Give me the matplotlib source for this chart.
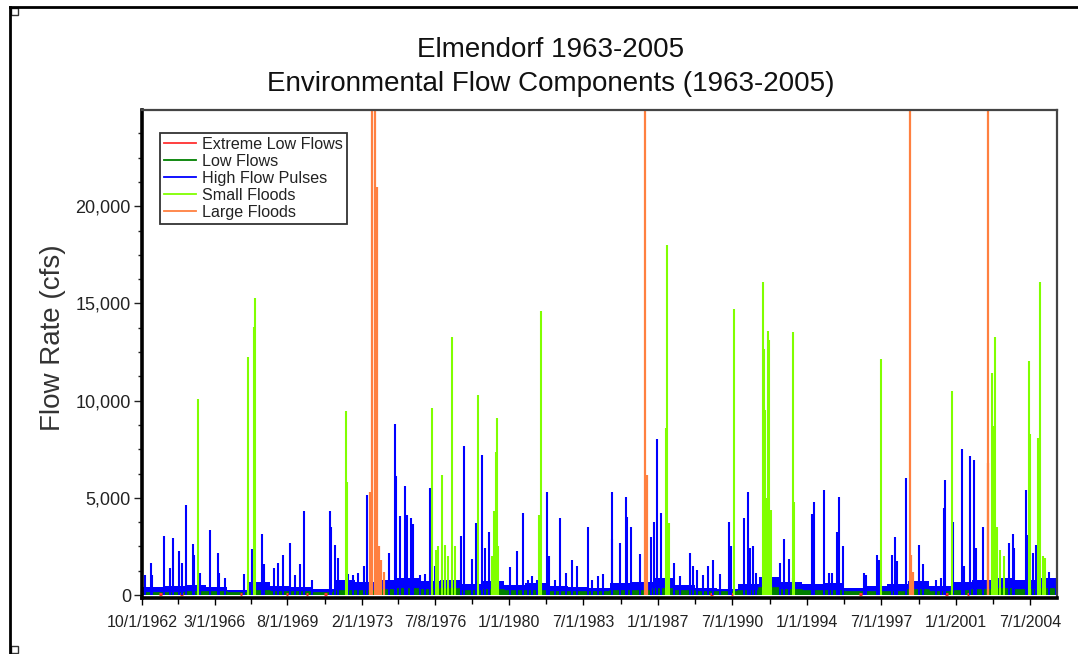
import datetime as dt
import matplotlib
matplotlib.use('Agg')
import matplotlib.pyplot as plt
from matplotlib.lines import Line2D
from matplotlib.patches import Rectangle
from matplotlib.ticker import FuncFormatter, MultipleLocator

plt.rcParams['font.family'] = ['Liberation Sans', 'DejaVu Sans']

title_lines = ['Elmendorf 1963-2005', 'Environmental Flow Components (1963-2005)']
series_names = ['Extreme Low Flows', 'Low Flows', 'High Flow Pulses', 'Small Floods', 'Large Floods']
series_colors = ['#ff3030', '#008000', '#0000ff', '#80ff00', '#ff8040']
tick_dates = ['10/1/1962', '3/1/1966', '8/1/1969', '2/1/1973', '7/8/1976', '1/1/1980',
              '7/1/1983', '1/1/1987', '7/1/1990', '1/1/1994', '7/1/1997', '1/1/2001', '7/1/2004']

# water-year starts (decimal year) with typical base levels (cfs)
wy_start = [1962.75 + i for i in range(43)]
low_flow = [130, 120, 150, 140, 110, 200, 170, 150, 120, 200, 200, 250, 300, 250, 300,
            200, 250, 200, 200, 180, 180, 170, 220, 220, 300, 200, 150, 140, 200, 350,
            250, 220, 230, 150, 170, 180, 250, 180, 220, 280, 300, 280, 300]
pulse_band = [400, 450, 500, 400, 280, 650, 450, 400, 320, 800, 650, 800, 900, 700, 800,
              550, 700, 500, 600, 450, 400, 380, 600, 650, 900, 500, 350, 320, 550, 950,
              650, 550, 600, 350, 450, 550, 700, 450, 650, 800, 900, 800, 900]

# extreme low flow periods (start year)
extreme_low_years = [1963.55, 1964.55, 1967.35, 1969.5, 1970.45, 1971.3,
                     1989.45, 1990.42, 1996.45, 2000.5, 2001.5]
extreme_low_cfs = [40, 40, 40, 40, 40, 40, 40, 40, 40, 40, 40]

# high flow pulses: peak date (decimal year) and peak flow (cfs)
pulse_years = [1962.90, 1963.19, 1963.24, 1963.80, 1964.08, 1964.21, 1964.50, 1964.63, 1964.83,
               1965.13, 1965.21, 1965.49, 1965.96, 1966.30, 1966.37, 1966.66, 1967.52, 1967.91,
               1968.38, 1968.49, 1968.93, 1969.14, 1969.37, 1969.70, 1969.95, 1970.18, 1970.37,
               1970.73, 1971.56, 1971.62, 1971.83, 1971.97, 1972.45, 1972.68, 1972.92, 1973.20,
               1973.31, 1974.37, 1974.64, 1974.69, 1974.88, 1975.11, 1975.19, 1975.38, 1975.47,
               1975.82, 1976.05, 1976.29, 1976.52, 1977.73, 1977.88, 1978.27, 1978.43, 1978.71,
               1978.87, 1979.07, 1979.18, 1980.04, 1980.38, 1980.64, 1980.90, 1981.06, 1981.32,
               1981.76, 1981.87, 1982.15, 1982.39, 1982.67, 1982.98, 1983.17, 1983.69, 1983.88,
               1984.19, 1984.39, 1984.82, 1984.85, 1985.21, 1985.49, 1985.52, 1985.75, 1986.14,
               1986.69, 1986.80, 1986.96, 1987.16, 1987.74, 1988.03, 1988.49, 1988.65, 1988.81,
               1989.12, 1989.37, 1989.59, 1989.90, 1990.34, 1990.45, 1991.04, 1991.23, 1991.31,
               1991.46, 1991.62, 1992.72, 1992.90, 1993.14, 1993.34, 1994.25, 1994.31, 1994.78,
               1995.03, 1995.19, 1995.41, 1995.49, 1995.69, 1996.66, 1996.76, 1997.28, 1997.38,
               1998.01, 1998.12, 1998.24, 1998.67, 1999.26, 1999.44, 2000.07, 2000.31, 2000.42,
               2000.47, 2000.85, 2001.30, 2001.36, 2001.64, 2001.87, 2001.95, 2002.26, 2003.51,
               2003.67, 2003.75, 2004.27, 2004.33, 2004.61, 2004.77, 2005.39, 2005.68]
pulse_peaks = [1030, 1640, 1030, 3050, 1390, 2960, 2280, 1660, 4630,
               2650, 2060, 1150, 3340, 2190, 1160, 870, 1100, 2350,
               3120, 1610, 1380, 1670, 2060, 2660, 1030, 1610, 4320,
               760, 4320, 3510, 2570, 1900, 1100, 1030, 1160, 1500,
               5140, 2140, 8790, 6120, 4080, 5620, 4130, 3970, 3640,
               1030, 1100, 5530, 1500, 3030, 7660, 1880, 3720, 7200,
               2400, 3250, 1300, 1470, 2280, 4230, 770, 1000, 800,
               5310, 2000, 770, 3940, 1160, 1800, 1500, 3510, 770,
               1000, 1100, 5310, 2900, 2660, 5020, 4000, 3510, 2090,
               3000, 3770, 8050, 4200, 1650, 1000, 2170, 1500, 1300,
               1030, 1500, 1800, 1100, 3770, 2500, 3940, 5310, 2400,
               2520, 1160, 1640, 2880, 1850, 870, 4160, 4800, 5400,
               1160, 1160, 3250, 5020, 2520, 1160, 1030, 2060, 1800,
               2060, 3000, 1740, 6000, 2600, 1600, 760, 870, 4460,
               5910, 3770, 7490, 1500, 7140, 6970, 2400, 3510, 2660,
               3120, 2400, 5400, 3100, 2180, 2570, 1200, 900]

# small floods
small_years = [1965.40, 1967.75, 1968.02, 1968.07, 1972.34, 1972.38, 1976.36, 1976.55, 1976.66,
               1976.83, 1976.99, 1977.15, 1977.34, 1977.46, 1978.55, 1979.20, 1979.29, 1979.37,
               1979.42, 1979.50, 1981.42, 1981.48, 1987.39, 1987.44, 1987.50, 1990.56, 1991.93,
               1991.98, 1992.03, 1992.08, 1992.12, 1992.18, 1992.22, 1992.30, 1993.33, 1993.38,
               1997.49, 2000.82, 2002.70, 2002.77, 2002.84, 2002.95, 2003.05, 2003.28, 2004.42,
               2004.47, 2004.88, 2004.93, 2005.07, 2005.20]
small_peaks = [10070, 12230, 13800, 15300, 9460, 5800, 9600, 2300, 2500,
               6200, 2600, 2000, 13300, 2500, 10300, 2000, 4300, 7370,
               9100, 2500, 4100, 14600, 8600, 18000, 3700, 14700, 16100,
               12650, 9500, 2000, 5000, 13600, 13100, 4400, 13530, 4800,
               12130, 10500, 11430, 8700, 13300, 3500, 2300, 2000, 12030,
               8300, 8100, 16100, 2000, 1900]

# large floods (peaks run off the top of the chart)
large_years = [1973.45, 1973.58, 1973.69, 1973.78, 1973.90, 1974.00, 1974.10,
               1986.41, 1986.46, 1998.82, 1998.91, 1999.00, 2002.50, 2002.53]
large_peaks = [5300, 30000, 28000, 21000, 2500, 1800, 1200,
               32000, 6200, 40000, 2050, 1200, 35000, 6800]


def dec_year(s):
    m, d, y = map(int, s.split('/'))
    start = dt.date(y, 1, 1)
    n = (dt.date(y + 1, 1, 1) - start).days
    return y + (dt.date(y, m, d) - start).days / n


fig = plt.figure(figsize=(10.78, 6.54), dpi=100)
ax = fig.add_axes([142 / 1078, 1 - 598 / 654, 915 / 1078, 488 / 654])

# base flow bands
xs = wy_start + [wy_start[-1] + 1]
ax.fill_between(xs, 0, low_flow + [low_flow[-1]], step='post', color=series_colors[1], lw=0)
ax.fill_between(xs, low_flow + [low_flow[-1]], pulse_band + [pulse_band[-1]], step='post',
                color=series_colors[2], lw=0)
ax.step(xs, low_flow + [low_flow[-1]], where='post', color=series_colors[1], lw=1.2)

ax.hlines(extreme_low_cfs, extreme_low_years, [y + 0.12 for y in extreme_low_years],
          color=series_colors[0], lw=2.2)
ax.vlines(pulse_years, 0, pulse_peaks, color=series_colors[2], lw=1.5)
ax.vlines(small_years, 0, small_peaks, color=series_colors[3], lw=1.5)
ax.vlines(large_years, 0, large_peaks, color=series_colors[4], lw=1.6)

ax.set_xlim(dec_year('10/1/1962'), 2005.75)
ax.set_ylim(-150, 24950)

major = [dec_year(s) for s in tick_dates]
ax.set_xticks(major)
ax.set_xticklabels(tick_dates, fontsize=11.5, color='#222222')
ax.set_xticks([(a + b) / 2 for a, b in zip(major[:-1], major[1:])], minor=True)
ax.yaxis.set_major_locator(MultipleLocator(5000))
ax.yaxis.set_minor_locator(MultipleLocator(1250))
ax.yaxis.set_major_formatter(FuncFormatter(lambda v, p: '{:,.0f}'.format(v)))
ax.tick_params(axis='y', which='major', length=6, width=1, labelsize=13, pad=2, colors='#222222')
ax.tick_params(axis='y', which='minor', length=3, width=1, color='#222222')
ax.tick_params(axis='x', which='major', length=5, width=1, pad=7)
ax.tick_params(axis='x', which='minor', length=4, width=1)

for side in ['left', 'bottom']:
    ax.spines[side].set_linewidth(2.6)
    ax.spines[side].set_color('black')
for side in ['top', 'right']:
    ax.spines[side].set_linewidth(1.6)
    ax.spines[side].set_color('#444444')

handles = [Line2D([], [], color=c, lw=1.3) for c in series_colors]
leg = ax.legend(handles, series_names, loc='upper left', bbox_to_anchor=(0.0197, 0.953),
                borderaxespad=0, fontsize=11.6, frameon=True, fancybox=False,
                borderpad=0.25, labelspacing=0.12, handlelength=2.0, handletextpad=0.35)
leg.get_frame().set_edgecolor('black')
leg.get_frame().set_linewidth(1.3)
for t in leg.get_texts():
    t.set_color('#222222')

fig.text(0.511, 1 - 50 / 654, title_lines[0], ha='center', va='center', fontsize=20, color='#111111')
fig.text(0.511, 1 - 84 / 654, title_lines[1], ha='center', va='center', fontsize=20, color='#111111')
fig.text(53 / 1078, 1 - 338 / 654, 'Flow Rate (cfs)', rotation=90, ha='center', va='center',
         fontsize=20, color='#333333')

# outer frame
fig.add_artist(Line2D([9.5 / 1078, 1], [1 - 7 / 654, 1 - 7 / 654], transform=fig.transFigure,
                      color='black', lw=2))
fig.add_artist(Line2D([9.5 / 1078, 9.5 / 1078], [0, 1 - 7 / 654], transform=fig.transFigure,
                      color='black', lw=2))
for yy in [8, 646]:
    fig.add_artist(Rectangle((10.5 / 1078, 1 - (yy + 7) / 654), 7 / 1078, 7 / 654,
                             transform=fig.transFigure, facecolor='white', edgecolor='#333333', lw=1))

fig.savefig('out.png', dpi=100)
